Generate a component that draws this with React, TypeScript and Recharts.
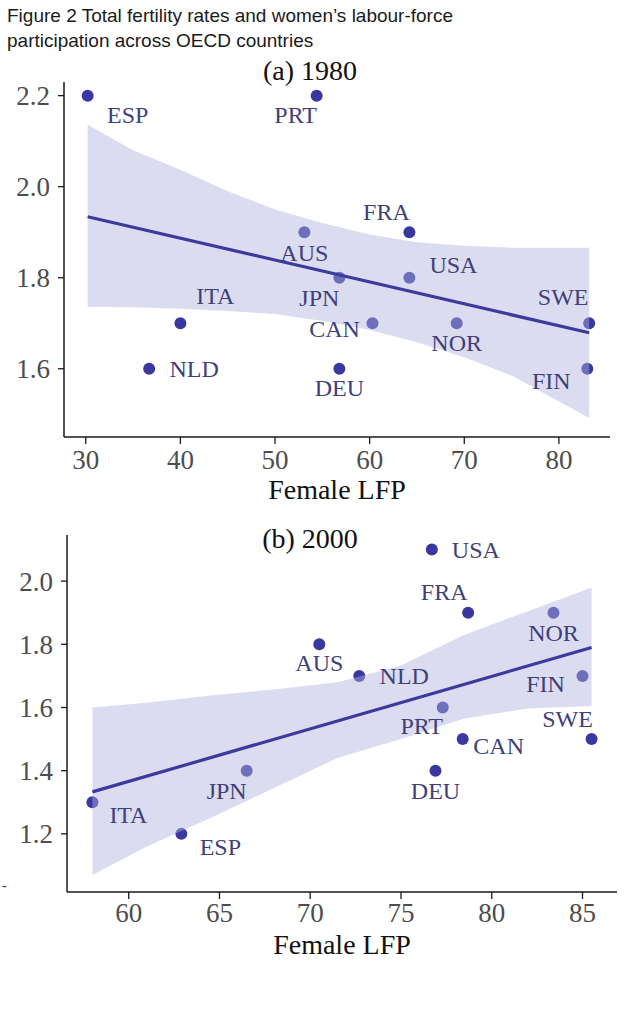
import React from 'react';
import { ComposedChart, Scatter, Area, Line, XAxis, YAxis, Label } from 'recharts';

// ---------- Panel (a) 1980 ----------
const countries1980 = ['ESP', 'PRT', 'AUS', 'FRA', 'JPN', 'USA', 'CAN', 'NOR', 'SWE', 'DEU', 'FIN', 'ITA', 'NLD'];
const lfp1980 = [30.2, 54.4, 53.1, 64.2, 56.8, 64.2, 60.3, 69.2, 83.2, 56.8, 83.0, 40.0, 36.7];
const tfr1980 = [2.2, 2.2, 1.9, 1.9, 1.8, 1.8, 1.7, 1.7, 1.7, 1.6, 1.6, 1.7, 1.6];
const bandX1980 = [30.2, 35, 40, 45, 50, 55, 60, 65, 70, 75, 83.2];
const bandLow1980 = [1.736, 1.735, 1.732, 1.727, 1.72, 1.705, 1.685, 1.658, 1.625, 1.585, 1.492];
const bandHigh1980 = [2.136, 2.08, 2.037, 1.99, 1.95, 1.92, 1.895, 1.878, 1.87, 1.866, 1.866];
const fitX1980 = [30.2, 83.2];
const fitY1980 = [1.934, 1.679];
const xTicks1980 = [30, 40, 50, 60, 70, 80];
const yTicks1980 = [1.6, 1.8, 2.0, 2.2];

// ---------- Panel (b) 2000 ----------
const countries2000 = ['USA', 'FRA', 'NOR', 'AUS', 'NLD', 'FIN', 'PRT', 'CAN', 'SWE', 'DEU', 'JPN', 'ITA', 'ESP'];
const lfp2000 = [76.7, 78.7, 83.4, 70.5, 72.7, 85.0, 77.3, 78.4, 85.5, 76.9, 66.5, 58.0, 62.9];
const tfr2000 = [2.1, 1.9, 1.9, 1.8, 1.7, 1.7, 1.6, 1.5, 1.5, 1.4, 1.4, 1.3, 1.2];
const bandX2000 = [58, 61, 64.5, 68, 71.5, 75, 78.5, 82, 85.5];
const bandLow2000 = [1.07, 1.16, 1.25, 1.345, 1.44, 1.5, 1.565, 1.597, 1.605];
const bandHigh2000 = [1.6, 1.615, 1.638, 1.657, 1.68, 1.733, 1.83, 1.905, 1.98];
const fitX2000 = [58, 85.5];
const fitY2000 = [1.333, 1.79];
const xTicks2000 = [60, 65, 70, 75, 80, 85];
const yTicks2000 = [1.2, 1.4, 1.6, 1.8, 2.0];

// label placement (style only): offset of label centre from point
const labelPos1980: Record<string, [number, number]> = {
  ESP: [40, 19], PRT: [-21, 19], AUS: [0, 21], FRA: [-23, -20], USA: [44, -13], JPN: [-20, 20],
  CAN: [-38, 6], NOR: [0, 20], SWE: [-26, -26], DEU: [0, 19], FIN: [-36, 12], ITA: [35, -27], NLD: [45, 0],
};
const labelPos2000: Record<string, [number, number]> = {
  USA: [44, 0], FRA: [-24, -21], NOR: [0, 20], AUS: [0, 19], NLD: [45, 0], FIN: [-37, 8], PRT: [-21, 19],
  CAN: [36, 7], SWE: [-24, -20], DEU: [0, 20], JPN: [-20, 20], ITA: [36, 13], ESP: [39, 13],
};

const POINT = '#3a38a0';
const LINE = '#3d3a9e';
const BAND = '#b1b1dd';
const LABEL = '#3f3f7c';
const SERIF = '"Liberation Serif", "DejaVu Serif", serif';
const X_AXIS_H = 61;

function buildRows(bx: number[], lo: number[], hi: number[], fx: number[], fy: number[]) {
  const xs = Array.from(new Set([...bx, ...fx])).sort((a, b) => a - b);
  return xs.map((x) => {
    const bi = bx.indexOf(x);
    const fi = fx.indexOf(x);
    const row: any = { x };
    if (bi >= 0) row.band = [lo[bi], hi[bi]];
    if (fi >= 0) row.fit = fy[fi];
    return row;
  });
}

function buildPoints(names: string[], xs: number[], ys: number[]) {
  return names.map((name, i) => ({ name, x: xs[i], y: ys[i] }));
}

type PanelProps = {
  top: number;
  height: number;
  margin: { top: number; right: number; bottom: number; left: number };
  yWidth: number;
  xDomain: [number, number];
  yDomain: [number, number];
  xTicks: number[];
  yTicks: number[];
  rows: any[];
  points: any[];
  labelPos: Record<string, [number, number]>;
  xTickMargin: number;
};

function Panel(p: PanelProps) {
  const dotShape = (props: any) => <circle cx={props.cx} cy={props.cy} r={6} fill={POINT} />;
  const labelShape = (props: any) => {
    const { cx, cy, payload } = props;
    const off = p.labelPos[payload.name] || [0, 20];
    return (
      <text
        x={cx + off[0]}
        y={cy + off[1]}
        textAnchor="middle"
        dominantBaseline="central"
        fontFamily={SERIF}
        fontSize={24}
        fill={LABEL}
      >
        {payload.name}
      </text>
    );
  };
  const tickStyle = { fontFamily: SERIF, fontSize: 27, fill: '#4d4d4d' };
  const overlayMargin = {
    top: p.margin.top,
    right: p.margin.right,
    bottom: p.margin.bottom + X_AXIS_H,
    left: p.margin.left + p.yWidth,
  };
  return (
    <div style={{ position: 'absolute', left: 0, top: p.top, width: 626, height: p.height }}>
      {/* base layer: axes and points */}
      <div style={{ position: 'absolute', left: 0, top: 0 }}>
        <ComposedChart width={626} height={p.height} data={p.rows} margin={p.margin}>
          <XAxis
            type="number"
            dataKey="x"
            domain={p.xDomain}
            ticks={p.xTicks}
            allowDataOverflow
            height={X_AXIS_H}
            tickSize={7}
            tickMargin={p.xTickMargin}
            stroke="#1a1a1a"
            strokeWidth={1.5}
            tick={tickStyle}
            tickLine={{ stroke: '#1a1a1a', strokeWidth: 1.3 }}
          >
            <Label
              value="Female LFP"
              position="insideBottom"
              offset={-1}
              style={{ fontFamily: SERIF, fontSize: 28, fill: '#111' }}
            />
          </XAxis>
          <YAxis
            type="number"
            domain={p.yDomain}
            ticks={p.yTicks}
            allowDataOverflow
            width={p.yWidth}
            tickSize={6}
            tickMargin={8}
            stroke="#1a1a1a"
            strokeWidth={1.5}
            tick={tickStyle}
            tickLine={{ stroke: '#1a1a1a', strokeWidth: 1.3 }}
            tickFormatter={(v: number) => v.toFixed(1)}
          />
          <Scatter data={p.points} dataKey="y" shape={dotShape} isAnimationActive={false} />
        </ComposedChart>
      </div>
      {/* overlay layer: confidence band and fitted line over the points, labels on top */}
      <div style={{ position: 'absolute', left: 0, top: 0, pointerEvents: 'none' }}>
        <ComposedChart width={626} height={p.height} data={p.rows} margin={overlayMargin}>
          <XAxis type="number" dataKey="x" domain={p.xDomain} ticks={p.xTicks} allowDataOverflow hide />
          <YAxis type="number" domain={p.yDomain} ticks={p.yTicks} allowDataOverflow hide />
          <Area
            dataKey="band"
            type="linear"
            stroke="none"
            fill={BAND}
            fillOpacity={0.45}
            isAnimationActive={false}
            connectNulls
          />
          <Line
            dataKey="fit"
            type="linear"
            stroke={LINE}
            strokeWidth={3.2}
            dot={false}
            activeDot={false}
            connectNulls
            isAnimationActive={false}
          />
          <Scatter data={p.points} dataKey="y" shape={labelShape} isAnimationActive={false} />
        </ComposedChart>
      </div>
    </div>
  );
}

export default function App() {
  const rowsA = buildRows(bandX1980, bandLow1980, bandHigh1980, fitX1980, fitY1980);
  const rowsB = buildRows(bandX2000, bandLow2000, bandHigh2000, fitX2000, fitY2000);
  const ptsA = buildPoints(countries1980, lfp1980, tfr1980);
  const ptsB = buildPoints(countries2000, lfp2000, tfr2000);
  return (
    <div style={{ position: 'absolute', left: 0, top: 0, width: 626, height: 1024, background: '#fff', overflow: 'hidden' }}>
      <div
        style={{
          position: 'absolute',
          left: 7,
          top: 3,
          fontFamily: '"Liberation Sans", Arial, sans-serif',
          fontSize: 19,
          lineHeight: '25px',
          color: '#1a1a1a',
          whiteSpace: 'nowrap',
        }}
      >
        Figure 2 Total fertility rates and women’s labour-force
        <br />
        participation across OECD countries
      </div>
      <Panel
        top={0}
        height={520}
        margin={{ top: 82, right: 16, bottom: 22, left: 0 }}
        yWidth={64}
        xDomain={[27.7, 85.4]}
        yDomain={[1.45, 2.23]}
        xTicks={xTicks1980}
        yTicks={yTicks1980}
        rows={rowsA}
        points={ptsA}
        labelPos={labelPos1980}
        xTickMargin={6}
      />
      <Panel
        top={500}
        height={480}
        margin={{ top: 35, right: 9, bottom: 27, left: 0 }}
        yWidth={67}
        xDomain={[56.6, 86.9]}
        yDomain={[1.016, 2.146]}
        xTicks={xTicks2000}
        yTicks={yTicks2000}
        rows={rowsB}
        points={ptsB}
        labelPos={labelPos2000}
        xTickMargin={4}
      />
      <div style={{ position: 'absolute', left: 0, top: 56.6, width: 620, textAlign: 'center', fontFamily: SERIF, fontSize: 28, lineHeight: '28px', color: '#111' }}>
        (a) 1980
      </div>
      <div style={{ position: 'absolute', left: 0, top: 524.6, width: 620, textAlign: 'center', fontFamily: SERIF, fontSize: 28, lineHeight: '28px', color: '#111' }}>
        (b) 2000
      </div>
      <div style={{ position: 'absolute', left: 2, top: 878, fontFamily: SERIF, fontSize: 14, color: '#333' }}>-</div>
    </div>
  );
}
